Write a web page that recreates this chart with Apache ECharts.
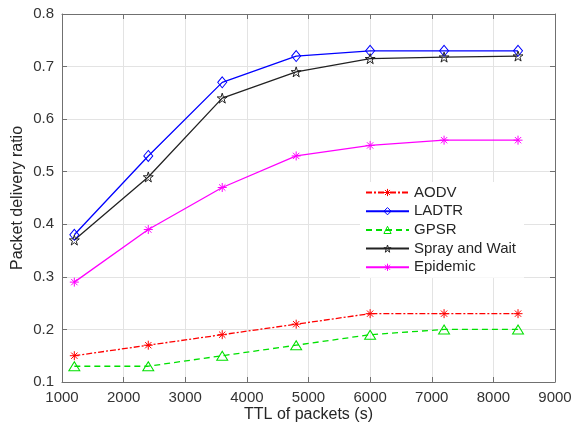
<!DOCTYPE html>
<html>
<head>
<meta charset="utf-8">
<script src="https://cdn.jsdelivr.net/npm/echarts@6/dist/echarts.min.js"></script>
<style>html,body{margin:0;padding:0;background:#fff;}#c{width:573px;height:424px;}</style>
</head>
<body>
<div id="c"></div>
<script>
const ttl = [1200, 2400, 3600, 4800, 6000, 7200, 8400];
const aodv = [0.15, 0.17, 0.19, 0.21, 0.23, 0.23, 0.23];
const ladtr = [0.38, 0.53, 0.67, 0.72, 0.73, 0.73, 0.73];
const gpsr = [0.13, 0.13, 0.15, 0.17, 0.19, 0.20, 0.20];
const spray = [0.37, 0.49, 0.64, 0.69, 0.715, 0.718, 0.72];
const epidemic = [0.29, 0.39, 0.47, 0.53, 0.55, 0.56, 0.56];
const seriesNames = ['AODV', 'LADTR', 'GPSR', 'Spray and Wait', 'Epidemic'];
const seriesColors = ['#ff0000', '#0000ff', '#00e000', '#222222', '#ff00ff'];
const xTicks = [1000, 2000, 3000, 4000, 5000, 6000, 7000, 8000, 9000];
const yTicks = [0.1, 0.2, 0.3, 0.4, 0.5, 0.6, 0.7, 0.8];

const ASTER = 'path://M0 -10 L0 10 M-10 0 L10 0 M-7 -7 L7 7 M-7 7 L7 -7';
const STAR = 'path://M0 -10 L2.23 -3.07 L9.51 -3.09 L3.61 1.17 L5.88 8.09 L0 3.8 L-5.88 8.09 L-3.61 1.17 L-9.51 -3.09 L-2.23 -3.07 Z';
const TRI = 'path://M0 -10 L10 7 L-10 7 Z';
const DIA = 'path://M0 -10 L7 0 L0 10 L-7 0 Z';

function pts(ys){ return ttl.map((x,i)=>[x, ys[i]]); }

function mk(name, ys, color, symbol, size, type){
  return {
    name: name, type: 'line', data: pts(ys),
    symbol: symbol, symbolSize: size,
    showAllSymbol: true,
    color: color,
    lineStyle: {color: color, width: 1.3, type: type},
    itemStyle: {color: 'none', borderColor: color, borderWidth: 1},
    emphasis: {disabled: true},
    animation: false
  };
}

const chart = echarts.init(document.getElementById('c'), null, {renderer: 'canvas'});
const FONT = 'Liberation Sans';
chart.setOption({
  backgroundColor: '#fff',
  animation: false,
  grid: {left: 62, right: 18, top: 14, bottom: 42, containLabel: false, outerBoundsMode: 'none'},
  legend: {
    data: seriesNames.map((n, i) => ({name: n, itemStyle: {color: 'none', borderColor: seriesColors[i], borderWidth: 1}})),
    orient: 'vertical',
    left: 360, top: 182,
    itemWidth: 43, itemHeight: 9, itemGap: 3.7,
    padding: [3, 8, 3, 5],
    backgroundColor: '#fff',
    textStyle: {fontFamily: FONT, fontSize: 15, lineHeight: 15, color: '#262626'}
  },
  xAxis: [{
    type: 'value', min: xTicks[0], max: xTicks[xTicks.length-1], interval: 1000,
    name: 'TTL of packets (s)', nameLocation: 'middle', nameGap: 25, nameMoveOverlap: false,
    nameTextStyle: {fontFamily: FONT, fontSize: 16, color: '#262626'},
    axisLine: {show: true, lineStyle: {color: '#707070', width: 1}},
    axisTick: {show: true, inside: true, length: 5, lineStyle: {color: '#707070'}},
    axisLabel: {fontFamily: FONT, fontSize: 15, color: '#333', margin: 8,
      formatter: v => String(Math.round(v))},
    splitLine: {show: true, lineStyle: {color: '#e3e3e3', width: 1}}
  }, {
    type: 'value', position: 'top', min: xTicks[0], max: xTicks[xTicks.length-1], interval: 1000,
    axisLine: {show: true, onZero: false, lineStyle: {color: '#707070', width: 1}},
    axisTick: {show: true, inside: true, length: 5, lineStyle: {color: '#707070'}},
    axisLabel: {show: false}, splitLine: {show: false}
  }],
  yAxis: [{
    type: 'value', min: yTicks[0], max: yTicks[yTicks.length-1], interval: 0.1,
    name: 'Packet delivery ratio', nameLocation: 'middle', nameGap: 36, nameMoveOverlap: false,
    nameTextStyle: {fontFamily: FONT, fontSize: 16, color: '#262626'},
    axisLine: {show: true, lineStyle: {color: '#707070', width: 1}},
    axisTick: {show: true, inside: true, length: 5, lineStyle: {color: '#707070'}},
    axisLabel: {fontFamily: FONT, fontSize: 15, color: '#333', margin: 8,
      formatter: v => (Math.round(v*10)/10).toFixed(1)},
    splitLine: {show: true, lineStyle: {color: '#e3e3e3', width: 1}}
  }, {
    type: 'value', position: 'right', min: yTicks[0], max: yTicks[yTicks.length-1], interval: 0.1,
    axisLine: {show: true, onZero: false, lineStyle: {color: '#707070', width: 1}},
    axisTick: {show: true, inside: true, length: 5, lineStyle: {color: '#707070'}},
    axisLabel: {show: false}, splitLine: {show: false}
  }],
  series: [
    mk(seriesNames[0], aodv, seriesColors[0], ASTER, 9, [6, 2, 2, 2]),
    mk(seriesNames[1], ladtr, seriesColors[1], DIA, [9, 11], 'solid'),
    mk(seriesNames[2], gpsr, seriesColors[2], TRI, [11, 9], [6, 4]),
    mk(seriesNames[3], spray, seriesColors[3], STAR, 10, 'solid'),
    mk(seriesNames[4], epidemic, seriesColors[4], ASTER, 9, 'solid')
  ]
});
</script>
</body>
</html>
